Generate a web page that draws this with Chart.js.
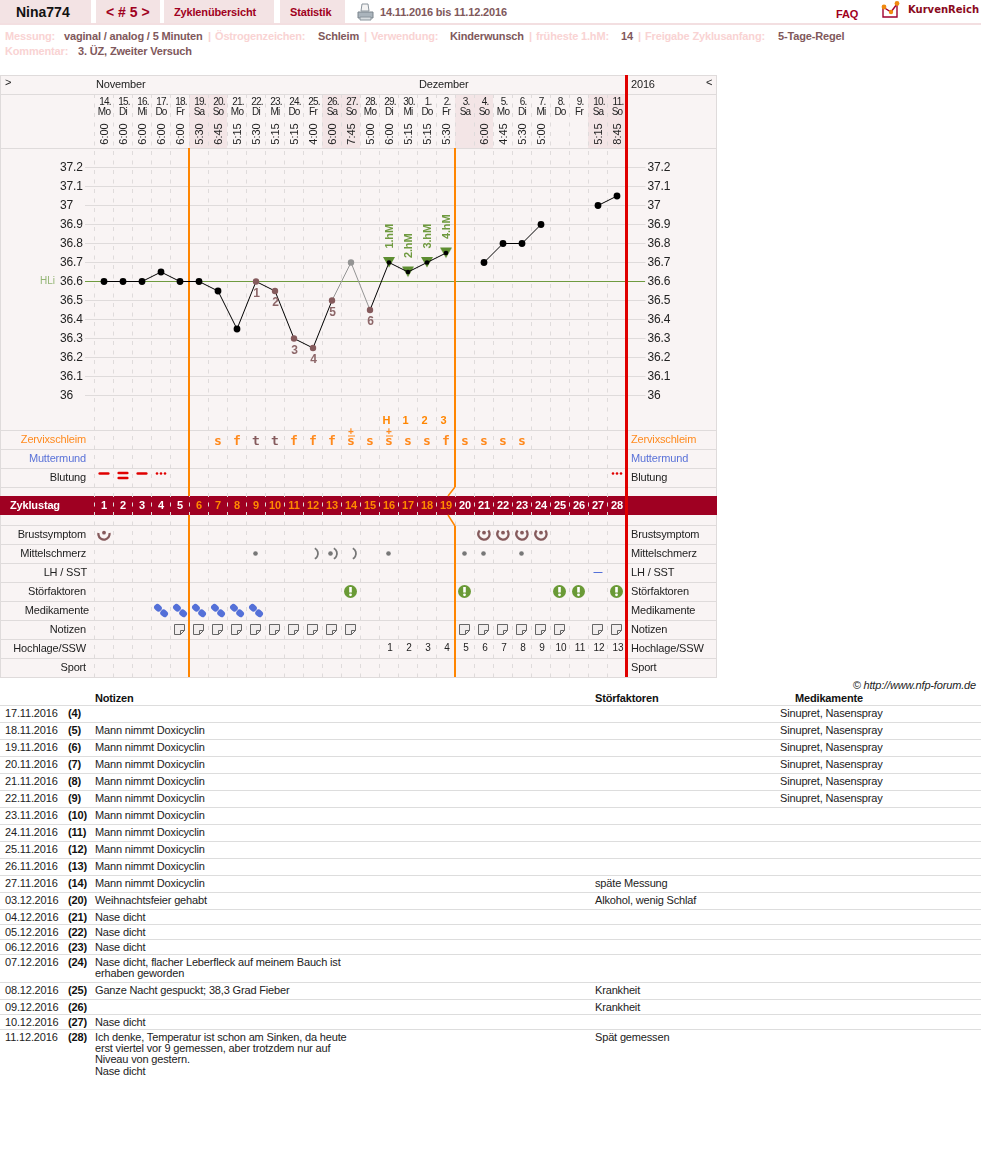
<!DOCTYPE html>
<html lang="de">
<head>
<meta charset="utf-8">
<title>Nina774 Zyklus 5</title>
<script src="https://cdn.jsdelivr.net/npm/chart.js@4"></script>
<style>
html,body{margin:0;padding:0;background:#fff;width:981px;height:1174px;overflow:hidden;font-family:"Liberation Sans",Arial,sans-serif;font-size:11px;letter-spacing:-.16px;color:#222}
.a{position:absolute;white-space:nowrap}
.tab{position:absolute;top:0;height:23px;background:#f3e3e4;color:#a00020;font-weight:bold;line-height:24px}
.l{color:#f9d3d3;font-weight:bold}.v{color:#80585b;font-weight:bold}
.nl{position:absolute;left:0;width:981px;height:1px;background:#dddddd}
#chartBox{position:absolute;left:0;top:75px;width:717px;height:603px}
</style>
</head>
<body>
<div class="tab" style="left:0;width:91px;color:#111;font-size:14px;padding-left:0"><span style="position:absolute;left:16px;letter-spacing:0">Nina774</span></div>
<div class="tab" style="left:96px;width:64px;font-size:14px"><span style="position:absolute;left:10px;letter-spacing:0">&lt; # 5 &gt;</span></div>
<div class="tab" style="left:164px;width:110px"><span style="position:absolute;left:10px">Zyklenübersicht</span></div>
<div class="tab" style="left:280px;width:65px"><span style="position:absolute;left:10px">Statistik</span></div>
<div class="a" style="left:0;top:23px;width:981px;height:2px;background:#f3dfe1"></div>
<svg class="a" style="left:357px;top:3px" width="17" height="18" viewBox="0 0 17 18"><path d="M5 1h6l1 7H4z" fill="#f4f4f4" stroke="#8a949c"/><path d="M1 9h15v6H1z" fill="#aab4bc" stroke="#7a848c"/><path d="M3 14h11v3H3z" fill="#d8dde0" stroke="#8a949c"/></svg>
<div class="a v" style="left:380px;top:6px">14.11.2016 bis 11.12.2016</div>
<div class="a" style="left:836px;top:8px;font-weight:bold;color:#a00020">FAQ</div>
<svg class="a" style="left:880px;top:0" width="22" height="20" viewBox="0 0 22 20"><path d="M3 8v9h14V5" fill="none" stroke="#a00030" stroke-width="1.4"/><path d="M3 7l8 5 6-8" fill="none" stroke="#a00030" stroke-width="1.4"/><circle cx="4" cy="7" r="2.4" fill="#f08a10"/><circle cx="11" cy="12" r="2.2" fill="#f08a10"/><circle cx="17" cy="3.5" r="2.4" fill="#f08a10"/></svg>
<div class="a" style="left:908px;top:4px;font:bold 10px 'DejaVu Sans';letter-spacing:0;color:#8a0a20">KurvenReich</div>

<div class="a l" style="left:5px;top:30px">Messung:</div><div class="a v" style="left:64px;top:30px">vaginal / analog / 5 Minuten</div>
<div class="a l" style="left:208px;top:30px">|</div><div class="a l" style="left:215px;top:30px">Östrogenzeichen:</div><div class="a v" style="left:318px;top:30px">Schleim</div>
<div class="a l" style="left:364px;top:30px">|</div><div class="a l" style="left:371px;top:30px">Verwendung:</div><div class="a v" style="left:450px;top:30px">Kinderwunsch</div>
<div class="a l" style="left:529px;top:30px">|</div><div class="a l" style="left:536px;top:30px">früheste 1.hM:</div><div class="a v" style="left:621px;top:30px">14</div>
<div class="a l" style="left:638px;top:30px">|</div><div class="a l" style="left:645px;top:30px">Freigabe Zyklusanfang:</div><div class="a v" style="left:778px;top:30px">5-Tage-Regel</div>
<div class="a l" style="left:5px;top:45px">Kommentar:</div><div class="a v" style="left:78px;top:45px">3. ÜZ, Zweiter Versuch</div>

<div id="chartBox"><canvas id="c" width="717" height="603"></canvas></div>
<div class="a" style="right:5px;top:679px;font-style:italic;color:#222">© http://www.nfp-forum.de</div>
<div class="a" style="left:95px;top:692px;font-weight:bold;color:#111">Notizen</div>
<div class="a" style="left:595px;top:692px;font-weight:bold;color:#111">Störfaktoren</div>
<div class="a" style="left:795px;top:692px;font-weight:bold;color:#111">Medikamente</div>
<div id="notes"></div>

<script>
// ---- chart data ----
const days = [1,2,3,4,5,6,7,8,9,10,11,12,13,14,15,16,17,18,19,20,21,22,23,24,25,26,27,28];
const dates = ['14.','15.','16.','17.','18.','19.','20.','21.','22.','23.','24.','25.','26.','27.','28.','29.','30.','1.','2.','3.','4.','5.','6.','7.','8.','9.','10.','11.'];
const weekdays = ['Mo','Di','Mi','Do','Fr','Sa','So','Mo','Di','Mi','Do','Fr','Sa','So','Mo','Di','Mi','Do','Fr','Sa','So','Mo','Di','Mi','Do','Fr','Sa','So'];
const times = ['6:00','6:00','6:00','6:00','6:00','5:30','6:45','5:15','5:30','5:15','5:15','4:00','6:00','7:45','5:00','6:00','5:15','5:15','5:30','','6:00','4:45','5:30','5:00','','','5:15','8:45'];
const temps = [36.6,36.6,36.6,36.65,36.6,36.6,36.55,36.35,36.6,36.55,36.3,36.25,36.5,36.7,36.45,36.7,36.65,36.7,36.75,null,36.7,36.8,36.8,36.9,null,null,37.0,37.05];
const tempTicks = [36,36.1,36.2,36.3,36.4,36.5,36.6,36.7,36.8,36.9,37,37.1,37.2];
const hli = 36.6;
const excludedDays = [14];
const lowDays = [9,10,11,12,13,15];
const lowLabels = ['1','2','3','4','5','6'];
const hmDays = [16,17,18,19];
const hmLabels = ['1.hM','2.hM','3.hM','4.hM'];
const fertileEdges = [5.5,19.5];
const cycleEnd = 28.5;
const peakDays = [16,17,18,19];
const peakLabels = ['H','1','2','3'];
const mucusDays = [7,8,9,10,11,12,13,14,15,16,17,18,19,20,21,22,23];
const mucusMarks = ['s','f','t','t','f','f','f','S+','s','S+','s','s','f','s','s','s','s'];
const bleedLight = [1,3];
const bleedHeavy = [2];
const bleedSpot = [4,28];
const breastDaysA = [1];
const breastDaysB = [21,22,23,24];
const painDot = [9,16,20,21,23];
const painArc = [12,14];
const painBoth = [13];
const lhDays = [27];
const disturbDays = [14,20,25,26,28];
const medDays = [4,5,6,7,8,9];
const noteDays = [5,6,7,8,9,10,11,12,13,14,20,21,22,23,24,25,27,28];
const highDays = [16,17,18,19,20,21,22,23,24,25,26,27,28];
const highLabels = ['1','2','3','4','5','6','7','8','9','10','11','12','13'];
const weekendDays = [6,7,13,14,20,21,27,28];
const cycleDaysOrange = [6,7,8,9,10,11,12,13,14,15,16,17,18,19];
const rowNames = ['Zervixschleim','Muttermund','Blutung','Zyklustag','Brustsymptom','Mittelschmerz','LH / SST','Störfaktoren','Medikamente','Notizen','Hochlage/SSW','Sport'];
const rowIndex = [0,1,2,3.5,5,6,7,8,9,10,11,12];

// ---- notes table data ----
const tblDates = ['17.11.2016','18.11.2016','19.11.2016','20.11.2016','21.11.2016','22.11.2016','23.11.2016','24.11.2016','25.11.2016','26.11.2016','27.11.2016','03.12.2016','04.12.2016','05.12.2016','06.12.2016','07.12.2016','08.12.2016','09.12.2016','10.12.2016','11.12.2016'];
const tblCycle = ['(4)','(5)','(6)','(7)','(8)','(9)','(10)','(11)','(12)','(13)','(14)','(20)','(21)','(22)','(23)','(24)','(25)','(26)','(27)','(28)'];
const doxy = 'Mann nimmt Doxicyclin';
const tblNotes = ['',doxy,doxy,doxy,doxy,doxy,doxy,doxy,doxy,doxy,doxy,'Weihnachtsfeier gehabt','Nase dicht','Nase dicht','Nase dicht','Nase dicht, flacher Leberfleck auf meinem Bauch ist<br>erhaben geworden','Ganze Nacht gespuckt; 38,3 Grad Fieber','','Nase dicht','Ich denke, Temperatur ist schon am Sinken, da heute<br>erst viertel vor 9 gemessen, aber trotzdem nur auf<br>Niveau von gestern.<br>Nase dicht'];
const tblStoer = ['','','','','','','','','','','späte Messung','Alkohol, wenig Schlaf','','','','','Krankheit','Krankheit','','Spät gemessen'];
const sinu = 'Sinupret, Nasenspray';
const tblMed = [sinu,sinu,sinu,sinu,sinu,sinu,'','','','','','','','','','','','','',''];
const tblRowLines = [705,722,739,756,773,790,807,824,841,858,875,892,909,924,939,954,982,999,1014,1029];

// ---- notes table ----
(function(){
  const box=document.getElementById('notes');
  let h='';
  tblRowLines.forEach((y,i)=>{
    h+=`<div class="nl" style="top:${y}px"></div>`;
    const t=y+2;
    h+=`<div class="a" style="left:5px;top:${t}px;line-height:12px">${tblDates[i]}</div>`;
    h+=`<div class="a" style="left:68px;top:${t}px;line-height:12px;font-weight:bold;color:#111">${tblCycle[i]}</div>`;
    h+=`<div class="a" style="left:95px;top:${t+0.5}px;line-height:11.4px">${tblNotes[i]}</div>`;
    h+=`<div class="a" style="left:595px;top:${t}px;line-height:12px">${tblStoer[i]}</div>`;
    h+=`<div class="a" style="left:780px;top:${t}px;line-height:12px">${tblMed[i]}</div>`;
  });
  box.innerHTML=h;
})();

// ---- colours ----
const panelBg='#f9f4f4', weekendBg='#f3e5e6', lineCol='#dfdbdb', band='#9f0022', orange='#ff8500', red='#e00000',
      brown='#855a5c', green='#6a9a36', blue='#5470d8', gray='#777777';
const FONT='"Liberation Sans", Arial, sans-serif';

// ---- icons as point styles ----
function icon(draw){const c=document.createElement('canvas');c.width=20;c.height=21;const g=c.getContext('2d');g.translate(10,10.5);draw(g);return c;}
const rad=d=>d*Math.PI/180;
const iconBreast=(a,b)=>icon(g=>{g.strokeStyle=brown;g.lineWidth=2.3;g.beginPath();g.arc(0,-0.5,5.6,rad(a),rad(b));g.stroke();g.fillStyle=brown;g.beginPath();g.arc(0,-1.8,1.9,0,7);g.fill();});
const iconBar=(ys)=>icon(g=>{g.strokeStyle='#e00000';g.lineWidth=2.6;g.lineCap='round';ys.forEach(y=>{g.beginPath();g.moveTo(-4.3,y);g.lineTo(4.3,y);g.stroke();});});
const iconSpot=icon(g=>{g.fillStyle='#e00000';[-4,0,4].forEach(x=>{g.beginPath();g.arc(x,-4,1.3,0,7);g.fill();});});
const drawDot=(g,x)=>{g.fillStyle=gray;g.beginPath();g.arc(x,0,2.3,0,7);g.fill();};
const drawArc=g=>{g.strokeStyle=gray;g.lineWidth=1.8;g.beginPath();g.arc(-1,0,6,rad(-62),rad(62));g.stroke();};
const iconDot=icon(g=>drawDot(g,-0.5));
const iconArc=icon(g=>drawArc(g));
const iconBoth=icon(g=>{drawDot(g,-1.5);drawArc(g);});
const iconLh=icon(g=>{g.fillStyle=blue;g.fillRect(-4.5,-0.5,9,1);});
const iconWarn=icon(g=>{g.fillStyle=green;g.beginPath();g.arc(-0.5,0,6.5,0,7);g.fill();g.fillStyle='#fff';g.fillRect(-1.8,-4.5,2.6,5.5);g.beginPath();g.arc(-0.5,3.3,1.4,0,7);g.fill();});
const iconPill=icon(g=>{g.rotate(rad(42));g.fillStyle=blue;g.beginPath();g.roundRect(-8,-3.3,7.8,6.6,3);g.fill();g.beginPath();g.roundRect(0.3,-3.3,7.8,6.6,3);g.fill();});
const iconNote=icon(g=>{g.fillStyle='#f1eded';g.strokeStyle='#666666';g.lineWidth=1;g.beginPath();g.moveTo(-5.5,-5);g.lineTo(4.5,-5);g.lineTo(4.5,1);g.lineTo(0.5,5);g.lineTo(-5.5,5);g.closePath();g.fill();g.stroke();g.beginPath();g.moveTo(0.5,5);g.lineTo(0.5,1);g.lineTo(4.5,1);g.stroke();});
const iconTri=icon(g=>{g.fillStyle='#5e8e32';g.beginPath();g.moveTo(-6,-5.5);g.lineTo(6,-5.5);g.lineTo(0,5);g.closePath();g.fill();});

const rowOf=name=>rowIndex[rowNames.indexOf(name)];
function marks(label,list,row,style){return {label,type:'line',showLine:false,xAxisID:'x',yAxisID:'yRows',clip:false,
  data:list.map(d=>({x:d,y:rowOf(row)})),pointStyle:style,pointRadius:10,pointHoverRadius:10,order:5};}

const pointColor=days.map(d=>excludedDays.includes(d)?'#949494':lowDays.includes(d)?brown:'#000000');
const pointSize=days.map(d=>hmDays.includes(d)?2.3:(lowDays.includes(d)||excludedDays.includes(d))?3.2:3.4);
const grey=i=>excludedDays.includes(days[i]);

// ---- plugin for panel furniture and labels ----
const panel={id:'panel',
 beforeDraw(ch){
  const c=ch.ctx,x=ch.scales.x,r=ch.scales.yRows,W=ch.width,H=ch.height;
  c.save();
  c.fillStyle=panelBg;c.fillRect(0,0,W,H);
  c.fillStyle=weekendBg;
  weekendDays.forEach(d=>{const a=x.getPixelForValue(d-0.5),b=x.getPixelForValue(d+0.5);c.fillRect(Math.floor(a),19,Math.round(b-a),54);});
  c.fillStyle=lineCol;
  c.fillRect(0,0,W,1);c.fillRect(0,19,W,1);c.fillRect(0,73,W,1);
  c.fillRect(0,0,1,H-1);c.fillRect(W-1,0,1,H-1);
  [-0.5,0.5,1.5,2.5,4.5,5.5,6.5,7.5,8.5,9.5,10.5,11.5,12.5].forEach(v=>c.fillRect(0,Math.round(r.getPixelForValue(v)),W,1));
  c.fillStyle=band;c.fillRect(0,Math.round(r.getPixelForValue(rowOf('Zyklustag')))-10,W,19);
  c.restore();
 },
 beforeDatasetsDraw(ch){
  const c=ch.ctx,x=ch.scales.x,r=ch.scales.yRows,y=ch.scales.temp,A=ch.chartArea,W=ch.width;
  c.save();
  // band top/bottom
  const mid=Math.round(r.getPixelForValue(rowOf('Zyklustag')));
  const bt=mid-10,bb=mid+9,rowTop=Math.round(r.getPixelForValue(2.5)),rowBot=Math.round(r.getPixelForValue(4.5));
  // HLi line
  const hy=Math.round(y.getPixelForValue(hli));
  c.fillStyle='#6f9a3f';c.fillRect(85,hy,560,1);
  // orange lines
  c.fillStyle=orange;
  const xo1=Math.floor(x.getPixelForValue(fertileEdges[0])),xo2=Math.floor(x.getPixelForValue(fertileEdges[1]));
  c.fillRect(xo1-1,73,2,bt-73);c.fillRect(xo1-1,bb,2,A.bottom-bb-1);
  c.fillRect(xo2-1,73,2,rowTop-73);c.fillRect(xo2-1,rowBot+1,2,A.bottom-rowBot-2);
  c.strokeStyle=orange;c.lineWidth=1.5;c.beginPath();c.moveTo(xo2,rowTop);c.lineTo(xo2-7,bt);c.moveTo(xo2-7,bb);c.lineTo(xo2,rowBot+1);c.stroke();
  // red end line
  c.fillStyle=red;c.fillRect(Math.floor(x.getPixelForValue(cycleEnd))-1,0,3,ch.height-1);
  // header text
  c.textBaseline='middle';c.fillStyle='#222';c.textAlign='left';c.font='11px '+FONT;
  c.letterSpacing='-0.16px';
  c.fillText('>',5,8);c.fillText('November',96,10);c.fillText('Dezember',419,10);c.fillText('2016',631,10);c.fillText('<',706,8);
  c.textAlign='center';
  days.forEach((d,i)=>{const px=x.getPixelForValue(d);
    c.font='10px '+FONT;c.letterSpacing='-0.8px';
    c.fillText(dates[i],px+1,27);c.fillText(weekdays[i],px,37);
    c.letterSpacing='0px';
    if(times[i]){c.save();c.font='11px '+FONT;c.translate(px+0.5,59);c.rotate(-Math.PI/2);c.fillText(times[i],0,0);c.restore();}
  });
  c.letterSpacing='-0.16px';
  // row labels
  const nudge={'Medikamente':3,'LH / SST':1};
  const col={'Zervixschleim':'#ff8a1e','Muttermund':'#5a72d8'};
  rowNames.forEach(n=>{const py=r.getPixelForValue(rowOf(n));
    c.font='11px '+FONT;
    c.fillStyle=col[n]||'#222';
    if(n==='Zyklustag'){c.font='bold 11px '+FONT;c.fillStyle='#fff';c.textAlign='left';c.fillText(n,10,py);return;}
    c.textAlign='right';c.fillText(n,86+(nudge[n]||0),py);
    c.textAlign='left';c.fillText(n,631,py);
  });
  c.letterSpacing='0px';
  // HLi
  c.font='10px '+FONT;c.fillStyle='#93b574';c.textAlign='left';c.fillText('HLi',40,hy+0.5);
  // cycle day numbers
  c.textAlign='center';c.font='bold 11px '+FONT;
  days.forEach(d=>{c.fillStyle=cycleDaysOrange.includes(d)?'#ff8a00':'#fff';c.fillText(String(d),x.getPixelForValue(d),mid);});
  // peak labels
  c.fillStyle=orange;c.font='bold 11px '+FONT;
  peakDays.forEach((d,i)=>c.fillText(peakLabels[i],x.getPixelForValue(d)-2.5,r.getPixelForValue(-1)+0.5));
  // mucus marks
  mucusDays.forEach((d,i)=>{const px=x.getPixelForValue(d),py=r.getPixelForValue(0)+2,m=mucusMarks[i];
    c.font='bold 13px "DejaVu Sans Mono", monospace';c.fillStyle=m==='t'?brown:'#ff8a1e';
    c.fillText(m==='S+'?'s':m,px,py);
    if(m==='S+'){c.fillRect(px-3,py-6,7,1);c.font='bold 10px '+FONT;c.fillText('+',px,py-9);}
  });
  // high-phase numbers
  c.fillStyle='#222';c.font='10px '+FONT;
  highDays.forEach((d,i)=>c.fillText(highLabels[i],x.getPixelForValue(d)+1,r.getPixelForValue(rowOf('Hochlage/SSW'))));
  c.restore();
 },
 afterDatasetsDraw(ch){
  const c=ch.ctx,x=ch.scales.x,y=ch.scales.temp;
  c.save();c.textBaseline='middle';c.textAlign='center';
  c.font='bold 12px '+FONT;c.fillStyle='#8d6769';
  lowDays.forEach((d,i)=>c.fillText(lowLabels[i],x.getPixelForValue(d)+0.5,y.getPixelForValue(temps[d-1])+12));
  c.fillStyle='#6f9a3f';c.font='bold 11px '+FONT;
  hmDays.forEach((d,i)=>{c.save();c.translate(x.getPixelForValue(d)+0.5,y.getPixelForValue(temps[d-1])-14);c.rotate(-Math.PI/2);c.textAlign='left';c.fillText(hmLabels[i],0,0);c.restore();});
  c.restore();
 }
};

new Chart(document.getElementById('c'),{
 type:'line',
 plugins:[panel],
 data:{datasets:[
  {label:'Temperatur',xAxisID:'x',yAxisID:'temp',data:temps.map((v,i)=>({x:days[i],y:v})),
   borderColor:'#000',borderWidth:1,tension:0,spanGaps:false,clip:false,
   segment:{borderColor:s=>(grey(s.p0DataIndex)||grey(s.p1DataIndex))?'#949494':'#000'},
   pointBackgroundColor:pointColor,pointBorderColor:pointColor,pointBorderWidth:0,pointRadius:pointSize,order:0},
  {label:'Höhepunkt',type:'line',showLine:false,xAxisID:'x',yAxisID:'temp',clip:false,
   data:hmDays.map(d=>({x:d,y:temps[d-1]})),pointStyle:iconTri,pointRadius:10,order:1},
  marks('Blutung stark',bleedHeavy,'Blutung',iconBar([-4.5,0.5])),
  marks('Blutung',bleedLight,'Blutung',iconBar([-4])),
  marks('Schmierblutung',bleedSpot,'Blutung',iconSpot),
  marks('Brustsymptom',breastDaysA,'Brustsymptom',iconBreast(-10,190)),
  marks('Brustsymptom stark',breastDaysB,'Brustsymptom',iconBreast(-40,220)),
  marks('Mittelschmerz',painDot,'Mittelschmerz',iconDot),
  marks('Mittelschmerz rechts',painArc,'Mittelschmerz',iconArc),
  marks('Mittelschmerz beide',painBoth,'Mittelschmerz',iconBoth),
  marks('LH / SST',lhDays,'LH / SST',iconLh),
  marks('Störfaktoren',disturbDays,'Störfaktoren',iconWarn),
  marks('Medikamente',medDays,'Medikamente',iconPill),
  marks('Notizen',noteDays,'Notizen',iconNote)
 ]},
 options:{
  responsive:false,animation:false,events:[],
  layout:{autoPadding:false,padding:{left:60,top:19,right:0,bottom:0}},
  plugins:{legend:{display:false},tooltip:{enabled:false},title:{display:false}},
  elements:{line:{tension:0}},
  scales:{
   x:{type:'linear',position:'bottom',min:0.5,max:28.5,offset:false,
      ticks:{display:false,autoSkip:false},
      afterBuildTicks:s=>{s.ticks=days.map(d=>({value:d-0.5})).concat([{value:cycleEnd}]);},
      afterFit:s=>{s.height=0;s.paddingLeft=s.paddingRight=0;},
      grid:{color:lineCol,drawTicks:false,lineWidth:1},
      border:{display:false,dash:[4,5.5]}},
   temp:{type:'linear',position:'left',min:36-(678-395.5)/190,max:36+(395.5-94)/190,
      afterBuildTicks:s=>{s.ticks=tempTicks.map(v=>({value:v}));},
      afterFit:s=>{s.width=34.5;s.paddingTop=s.paddingBottom=0;},
      ticks:{autoSkip:false,crossAlign:'far',color:'#222',font:{family:'"Liberation Sans"',size:12},padding:0,
             callback:v=>String(Math.round(v*10)/10)},
      grid:{color:lineCol,tickColor:lineCol,tickLength:9.5,lineWidth:1},
      border:{display:false}},
   tempR:{type:'linear',position:'right',min:36-(678-395.5)/190,max:36+(395.5-94)/190,
      afterBuildTicks:s=>{s.ticks=tempTicks.map(v=>({value:v}));},
      afterFit:s=>{s.width=90.5;s.paddingTop=s.paddingBottom=0;},
      ticks:{autoSkip:false,crossAlign:'near',color:'#222',font:{family:'"Liberation Sans"',size:12},padding:2,
             callback:v=>String(Math.round(v*10)/10)},
      grid:{drawOnChartArea:false,color:lineCol,tickColor:lineCol,tickLength:19,lineWidth:1},
      border:{display:false}},
   yRows:{type:'linear',axis:'y',position:'left',display:false,reverse:true,min:(94-439.5)/19,max:(678-439.5)/19}
  }
 }
});
</script>
</body>
</html>
